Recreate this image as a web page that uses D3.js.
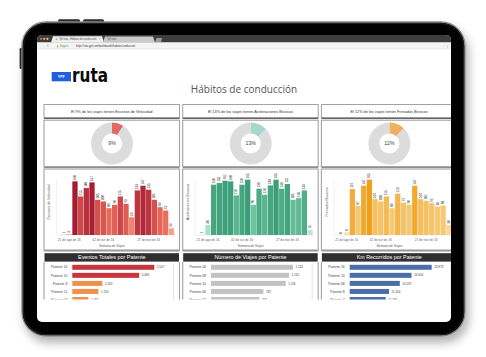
<!DOCTYPE html>
<html><head><meta charset="utf-8">
<script src="https://cdn.jsdelivr.net/npm/d3@7"></script>
<style>html,body{margin:0;padding:0;background:#fff;overflow:hidden}svg{display:block}</style>
</head><body>
<script>
// ---------- DATA ----------
const weeks = ["14 de ago de 16","21 de ago de 16","28 de ago de 16","04 de sep de 16","11 de sep de 16",
  "18 de sep de 16","25 de sep de 16","02 de oct de 16","09 de oct de 16","16 de oct de 16",
  "23 de oct de 16","30 de oct de 16","06 de nov de 16","13 de nov de 16","20 de nov de 16",
  "27 de nov de 16","04 de dic de 16","11 de dic de 16","18 de dic de 16","25 de dic de 16"];
const tickWeeks = ["21 de ago de 16","02 de oct de 16","27 de nov de 16"];
const speedingValues = [1,3,160,115,140,157,105,100,80,90,115,93,53,133,147,135,105,83,73,20];
const accelValues    = [1,30,150,155,162,160,118,150,165,90,138,120,148,165,138,152,105,110,133,15];
const brakeValues    = [0,8,137,87,147,165,107,100,115,80,123,97,90,147,107,102,95,85,88,30];
const donutShares = [0.09,0.13,0.12];
const donutLabels = ["9%","13%","12%"];
const headerTexts = ["El 9% de los viajes tienen Excesos de Velocidad",
  "El 13% de los viajes tienen Aceleraciones Bruscas",
  "El 12% de los viajes tienen Frenados Bruscos"];
const yTitles = ["Excesos de Velocidad","Aceleraciones Bruscas","Frenados Bruscos"];
const xTitle = "Semana de Viajes";
const listTitles = ["Eventos Totales por Patente","Número de Viajes por Patente","Km Recorridos por Patente"];
const eventsPlates = ["Patente 16","Patente 10","Patente 8","Patente 11","Patente 03"];
const eventsValues = [5507,4494,2023,1754,1081];
const tripsPlates = ["Patente 04","Patente 08","Patente 10","Patente 06","Patente 12"];
const tripsValues = [1224,1165,1116,782,723];
const kmPlates = ["Patente 16","Patente 10","Patente 08","Patente 8","Patente 4"];
const kmValues = [23878,18004,14597,11454,10485];
const pageTitle = "Hábitos de conducción";

// ---------- SETUP ----------
const W = 486, H = 357;
const svg = d3.select("body").append("svg").attr("width", W).attr("height", H);
const defs = svg.append("defs");
const sh = defs.append("filter").attr("id","shadow").attr("x","-10%").attr("y","-10%").attr("width","125%").attr("height","130%");
sh.append("feDropShadow").attr("dx",3).attr("dy",6).attr("stdDeviation",5).attr("flood-color","#000").attr("flood-opacity",0.3);
defs.append("clipPath").attr("id","screen").append("rect")
  .attr("x",37).attr("y",35).attr("width",414).attr("height",287).attr("rx",5);
defs.append("clipPath").attr("id","listclip").append("rect")
  .attr("x",37).attr("y",262).attr("width",414).attr("height",37.5);

const loc = d3.formatLocale({decimal:",", thousands:".", grouping:[3], currency:["$",""]});
const fmt = loc.format(",d");
const FONT = "'Liberation Sans', Arial, sans-serif";

// ---------- TABLET ----------
svg.append("rect").attr("x",58).attr("y",19.3).attr("width",22).attr("height",4).attr("rx",1.5).attr("fill","#2b2b2b");
svg.append("rect").attr("x",83).attr("y",19.3).attr("width",21).attr("height",4).attr("rx",1.5).attr("fill","#2b2b2b");
svg.append("rect").attr("x",19.6).attr("y",48).attr("width",4).attr("height",21).attr("rx",1.2).attr("fill","#2b2b2b");
svg.append("rect").attr("x",22).attr("y",22).attr("width",443).attr("height",314).attr("rx",24)
  .attr("fill","#030303").attr("stroke","#8c8c8c").attr("stroke-width",1.3).attr("filter","url(#shadow)");
svg.append("rect").attr("x",23.5).attr("y",23.5).attr("width",440).attr("height",311).attr("rx",23)
  .attr("fill","none").attr("stroke","#2a2a2a").attr("stroke-width",0.8);

const scr = svg.append("g").attr("clip-path","url(#screen)");
scr.append("rect").attr("x",37).attr("y",35).attr("width",414).attr("height",287).attr("fill","#fff");

// ---------- BROWSER CHROME ----------
scr.append("rect").attr("x",37).attr("y",35).attr("width",414).attr("height",7.5).attr("fill","#3d3d3d");
[["#ec5a52",41],["#f2b43a",44.2],["#f0d050",47.4]].forEach(([c,x]) =>
  scr.append("circle").attr("cx",x).attr("cy",38.8).attr("r",1.15).attr("fill",c));
scr.append("path").attr("d","M51,42.5 L53,36.2 L102,36.2 L104,42.5 Z").attr("fill","#efefef");
scr.append("circle").attr("cx",56.5).attr("cy",39.3).attr("r",1).attr("fill","#e8a23a");
scr.append("text").attr("x",59).attr("y",40.2).attr("font-size",2.6).attr("fill","#444").attr("font-family",FONT).text("Ypf ruta - Hábitos de conducción");
scr.append("text").attr("x",99).attr("y",40.3).attr("font-size",2.8).attr("fill","#666").attr("font-family",FONT).text("×");
scr.append("path").attr("d","M103,42.5 L105,36.6 L153,36.6 L155,42.5 Z").attr("fill","#c9c9c9");
scr.append("text").attr("x",107).attr("y",40.3).attr("font-size",2.6).attr("fill","#444").attr("font-family",FONT).text("Ypf ruta");
scr.append("path").attr("d","M155,42.5 L156.5,38 L162,38 L161,42.5 Z").attr("fill","#9c9c9c");
scr.append("rect").attr("x",37).attr("y",42.5).attr("width",414).attr("height",6).attr("fill","#f4f4f4");
scr.append("text").attr("x",39).attr("y",46.6).attr("font-size",3).attr("fill","#888").attr("font-family",FONT).text("← → C");
scr.append("text").attr("x",56).attr("y",46.5).attr("font-size",2.6).attr("fill","#4a9a4a").attr("font-family",FONT).text("🔒 Seguro");
scr.append("text").attr("x",76).attr("y",46.5).attr("font-size",2.6).attr("fill","#333").attr("font-family",FONT).text("https://ruta.ypf.com/dashboards/habitos/conduccion");
scr.append("text").attr("x",442).attr("y",46.5).attr("font-size",2.6).attr("fill","#999").attr("font-family",FONT).text("☆ ⋮");
scr.append("line").attr("x1",37).attr("x2",451).attr("y1",48.7).attr("y2",48.7).attr("stroke","#d8d8d8").attr("stroke-width",0.5);

// ---------- LOGO + TITLE ----------
scr.append("rect").attr("x",51.7).attr("y",72).attr("width",19.3).attr("height",9.3).attr("fill","#1f5fe0");
scr.append("text").attr("x",61.3).attr("y",78.3).attr("text-anchor","middle").attr("font-size",3.6).attr("font-weight","bold")
  .attr("fill","#fff").attr("font-family",FONT).text("YPF");
scr.append("text").attr("x",72).attr("y",81.6).attr("font-size",19).attr("font-weight","bold")
  .attr("fill","#0a0a0a").attr("font-family","'DejaVu Sans', Arial, sans-serif")
  .attr("textLength",36).attr("lengthAdjust","spacingAndGlyphs").text("ruta");
scr.append("text").attr("x",244).attr("y",92.5).attr("text-anchor","middle").attr("font-size",10)
  .attr("fill","#555").attr("font-family","'Open Sans', sans-serif").text(pageTitle);

// ---------- PANELS ----------
const colX = [44, 182.7, 321.4];
const colW = 135.5;
const seriesList = [speedingValues, accelValues, brakeValues];
const colorScales = [
  d3.scaleLinear().domain([0,80,165]).range(["#f7b49a","#e86a5a","#a3162f"]).clamp(true),
  d3.scaleLinear().domain([0,90,165]).range(["#cdece0","#6fc4a0","#3a9e78"]).clamp(true),
  d3.scaleLinear().domain([0,90,165]).range(["#fbe2b0","#f6c771","#f09f1c"]).clamp(true)
];
const donutColors = ["#e26a66","#a6d6cd","#f2ae62"];
const BORDER = "#a2a2a2";

const x = d3.scaleBand().domain(weeks).range([61, 174]).paddingInner(0.07);
const y = d3.scaleLinear().domain([0,170]).range([235, 178]);
const arc = d3.arc().innerRadius(10).outerRadius(21);

colX.forEach((cx, c) => {
  const dx = cx - colX[0];
  const g = scr.append("g");
  // header box
  g.append("rect").attr("x",cx).attr("y",104.5).attr("width",colW).attr("height",13.5)
    .attr("fill","#fff").attr("stroke",BORDER).attr("stroke-width",1);
  g.append("line").attr("x1",cx).attr("x2",cx+colW).attr("y1",118.3).attr("y2",118.3).attr("stroke","#666").attr("stroke-width",1.4);
  g.append("text").attr("x",cx+colW/2).attr("y",112.6).attr("text-anchor","middle").attr("font-size",3.8)
    .attr("fill","#333").attr("font-family",FONT).text(headerTexts[c]);
  // donut panel
  g.append("rect").attr("x",cx).attr("y",120.2).attr("width",colW).attr("height",46.5)
    .attr("fill","#fff").attr("stroke",BORDER).attr("stroke-width",1.1);
  g.append("line").attr("x1",cx).attr("x2",cx+colW).attr("y1",167.3).attr("y2",167.3).attr("stroke","#8e8e8e").attr("stroke-width",1.3);
  const pie = d3.pie().sort(null)([donutShares[c], 1-donutShares[c]]);
  const dg = g.append("g").attr("transform",`translate(${112+dx},143.5)`);
  dg.selectAll("path").data(pie).join("path").attr("d",arc)
    .attr("fill",(d,i)=> i===0 ? donutColors[c] : "#dcdcdc");
  dg.append("text").attr("y",1.8).attr("text-anchor","middle").attr("font-size",5.2)
    .attr("fill","#444").attr("font-family",FONT).text(donutLabels[c]);
  // chart panel
  g.append("rect").attr("x",cx).attr("y",169).attr("width",colW).attr("height",81)
    .attr("fill","#fff").attr("stroke",BORDER).attr("stroke-width",1.1);
  g.append("line").attr("x1",cx).attr("x2",cx+colW).attr("y1",250.8).attr("y2",250.8).attr("stroke","#9a9a9a").attr("stroke-width",1.5);
  const cg = g.append("g").attr("transform",`translate(${dx},0)`);
  cg.append("line").attr("x1",56.5).attr("x2",56.5).attr("y1",179).attr("y2",235).attr("stroke","#e4e4e4").attr("stroke-width",0.5);
  cg.append("line").attr("x1",56.5).attr("x2",176).attr("y1",235.2).attr("y2",235.2).attr("stroke","#e4e4e4").attr("stroke-width",0.5);
  const vals = seriesList[c];
  cg.selectAll("rect.bar").data(weeks).join("rect").attr("class","bar")
    .attr("x",d=>x(d)).attr("width",x.bandwidth())
    .attr("y",(d,i)=>y(vals[i])).attr("height",(d,i)=>y(0)-y(vals[i]))
    .attr("fill",(d,i)=>colorScales[c](vals[i]));
  cg.selectAll("text.lab").data(weeks).join("text").attr("class","lab")
    .attr("transform",(d,i)=>`translate(${x(d)+x.bandwidth()/2+1.1},${y(vals[i])-1.2}) rotate(-90)`)
    .attr("font-size",3.1).attr("fill","#222").attr("font-family",FONT)
    .text((d,i)=>fmt(vals[i]));
  cg.selectAll("text.tick").data(tickWeeks).join("text").attr("class","tick")
    .attr("x",d=>x(d)+x.bandwidth()/2).attr("y",241).attr("text-anchor","middle")
    .attr("font-size",3.2).attr("fill","#666").attr("font-family",FONT).text(d=>d);
  cg.append("text").attr("x",112).attr("y",247.3).attr("text-anchor","middle").attr("font-size",3.2)
    .attr("fill","#555").attr("font-family",FONT).text(xTitle);
  cg.append("text").attr("transform","translate(50.3,202) rotate(-90)").attr("text-anchor","middle").attr("font-size",3.6)
    .attr("fill","#555").attr("font-family",FONT).text(yTitles[c]);
  // dark list header
  g.append("rect").attr("x",cx+0.5).attr("y",253.2).attr("width",colW-1).attr("height",8.4).attr("fill","#2f2f2f");
  g.append("text").attr("x",cx+colW/2).attr("y",259.4).attr("text-anchor","middle").attr("font-size",5.4)
    .attr("fill","#fff").attr("font-family",FONT).text(listTitles[c]);
});

// ---------- LISTS ----------
const lists = [
  {plates: eventsPlates, values: eventsValues, color: v => v > 3000 ? "#c9343e" : "#f0914b"},
  {plates: tripsPlates, values: tripsValues, color: () => "#c3c3c3"},
  {plates: kmPlates, values: kmValues, color: () => "#4a6fa8"}
];
const rowY = d3.scaleBand().domain(d3.range(5)).range([264.8, 302]).paddingInner(0.38);
const lg = scr.append("g").attr("clip-path","url(#listclip)");
lists.forEach((L, c) => {
  const cx = colX[c];
  const bx = cx + 28.3;
  const xs = d3.scaleLinear().domain([0, d3.max(L.values)]).range([0, 82]);
  lg.append("line").attr("x1",cx).attr("x2",cx).attr("y1",262).attr("y2",300).attr("stroke",BORDER).attr("stroke-width",1.1);
  lg.append("line").attr("x1",cx+colW).attr("x2",cx+colW).attr("y1",262).attr("y2",300).attr("stroke",BORDER).attr("stroke-width",1.1);
  lg.append("line").attr("x1",cx+129.5).attr("x2",cx+129.5).attr("y1",263).attr("y2",300).attr("stroke","#dedede").attr("stroke-width",0.8);
  L.plates.forEach((p, i) => {
    const yy = rowY(i);
    lg.append("rect").attr("x",bx).attr("y",yy).attr("width",xs(L.values[i])).attr("height",rowY.bandwidth()).attr("fill",L.color(L.values[i]));
    lg.append("text").attr("x",bx-5).attr("y",yy+rowY.bandwidth()/2+1.2).attr("text-anchor","end").attr("font-size",3.4)
      .attr("fill","#444").attr("font-family",FONT).text(p);
    lg.append("text").attr("x",bx+xs(L.values[i])+2.5).attr("y",yy+rowY.bandwidth()/2+1.1).attr("font-size",3)
      .attr("fill","#444").attr("font-family",FONT).text(fmt(L.values[i]));
  });
});
</script>
</body></html>
